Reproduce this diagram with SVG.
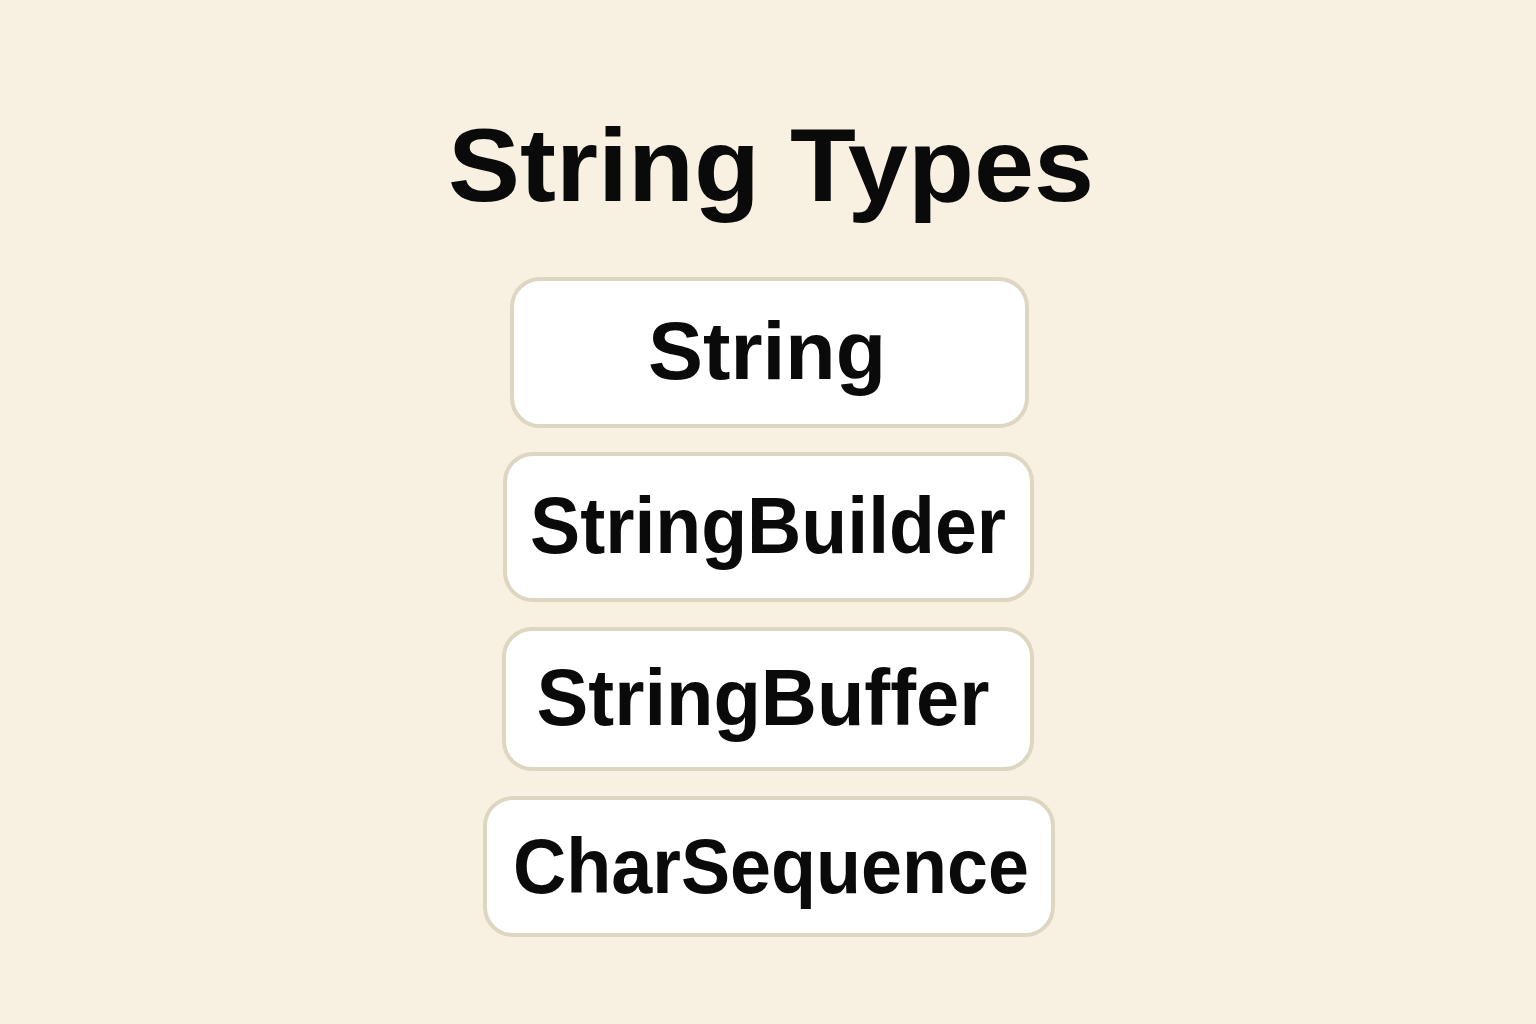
<svg xmlns="http://www.w3.org/2000/svg" width="1536" height="1024" viewBox="0 0 1536 1024">
<style>
.box{fill:#ffffff;stroke:#ddd6c1;stroke-width:4}
.lbl{font-family:"Liberation Sans",Arial,sans-serif;font-weight:bold;fill:#0a0a0a;text-anchor:middle}
</style>
<rect width="1536" height="1024" fill="#f8f1e1"/>
<text x="771" y="201" class="lbl" font-size="104" textLength="646" lengthAdjust="spacingAndGlyphs">String Types</text>
<g id="node-string">
<rect class="box" x="512" y="279" width="515" height="147" rx="28"/>
<text x="767" y="379" class="lbl" font-size="81" textLength="238" lengthAdjust="spacingAndGlyphs">String</text>
</g>
<g id="node-stringbuilder">
<rect class="box" x="505" y="454" width="527" height="146" rx="28"/>
<text x="768" y="553" class="lbl" font-size="80" textLength="476" lengthAdjust="spacingAndGlyphs">StringBuilder</text>
</g>
<g id="node-stringbuffer">
<rect class="box" x="504" y="629" width="528" height="140" rx="28"/>
<text x="763" y="725" class="lbl" font-size="79" textLength="453" lengthAdjust="spacingAndGlyphs">StringBuffer</text>
</g>
<g id="node-charsequence">
<rect class="box" x="485" y="798" width="568" height="137" rx="28"/>
<text x="771" y="893" class="lbl" font-size="78" textLength="516" lengthAdjust="spacingAndGlyphs">CharSequence</text>
</g>
<g id="connectors"></g>
</svg>
